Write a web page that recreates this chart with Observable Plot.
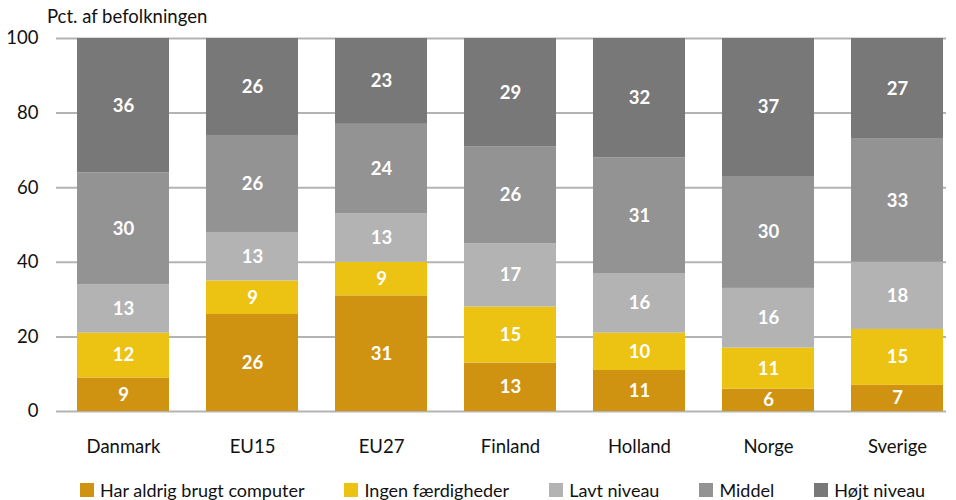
<!DOCTYPE html>
<html>
<head>
<meta charset="utf-8">
<script src="https://cdn.jsdelivr.net/npm/d3@7"></script>
<script src="https://cdn.jsdelivr.net/npm/@observablehq/plot@0.6"></script>
<style>
  body { margin: 0; background: #fff; font-family: Lato, "Open Sans", sans-serif; }
  #wrap { position: relative; width: 956px; height: 500px; }
  #title { position: absolute; left: 47px; top: 5px; font-size: 18.5px; color: #111; }
  #chart { position: absolute; left: 0; top: 0; }
  #legend { position: absolute; left: 80px; top: 479px; display: flex; gap: 40px; font-size: 18px; color: #111; }
  .item { display: flex; align-items: center; }
  .sw { width: 14px; height: 14px; margin-right: 6px; display: inline-block; }
</style>
</head>
<body>
<div id="wrap">
  <div id="chart"></div>
  <div id="title">Pct. af befolkningen</div>
  <div id="legend"></div>
</div>
<script>
const categories = ["Danmark", "EU15", "EU27", "Finland", "Holland", "Norge", "Sverige"];
const series = ["Har aldrig brugt computer", "Ingen færdigheder", "Lavt niveau", "Middel", "Højt niveau"];
const colors = ["#CF9311", "#ECC213", "#B3B3B3", "#939393", "#787878"];
const aldrig = [9, 26, 31, 13, 11, 6, 7];
const ingen = [12, 9, 9, 15, 10, 11, 15];
const lavt = [13, 13, 13, 17, 16, 16, 18];
const middel = [30, 26, 24, 26, 31, 30, 33];
const hoejt = [36, 26, 23, 29, 32, 37, 27];
const yTicks = [0, 20, 40, 60, 80, 100];

const seriesValues = [aldrig, ingen, lavt, middel, hoejt];
const data = [];
categories.forEach((c, i) => {
  series.forEach((s, j) => {
    data.push({category: c, series: s, value: seriesValues[j][i]});
  });
});

const chart = Plot.plot({
  width: 956,
  height: 465,
  marginTop: 38,
  marginBottom: 54,
  marginLeft: 56,
  marginRight: 10,
  style: { fontFamily: "Lato, 'Open Sans', sans-serif", fontSize: "18.5px", color: "#111", background: "transparent" },
  x: { domain: categories, range: [75, 946], paddingInner: 0.283, paddingOuter: 0, label: null, tickSize: 0, tickPadding: 28 },
  y: { domain: [0, 100], ticks: yTicks, label: null, tickSize: 0, tickPadding: 18 },
  color: { domain: series, range: colors },
  marks: [
    Plot.ruleY(yTicks, { stroke: "#B3B3B3", strokeWidth: 2 }),
    Plot.barY(data, Plot.stackY({ x: "category", y: "value", fill: "series", order: null })),
    Plot.text(data, Plot.stackY({ x: "category", y: "value", z: "series", order: null, text: d => String(d.value), fill: "white", fontWeight: "bold", fontSize: 18.5 }))
  ]
});
document.getElementById("chart").appendChild(chart);

const legend = document.getElementById("legend");
series.forEach((s, i) => {
  const it = document.createElement("div");
  it.className = "item";
  const sw = document.createElement("span");
  sw.className = "sw";
  sw.style.background = colors[i];
  const t = document.createElement("span");
  t.textContent = s;
  it.appendChild(sw);
  it.appendChild(t);
  legend.appendChild(it);
});
</script>
</body>
</html>
